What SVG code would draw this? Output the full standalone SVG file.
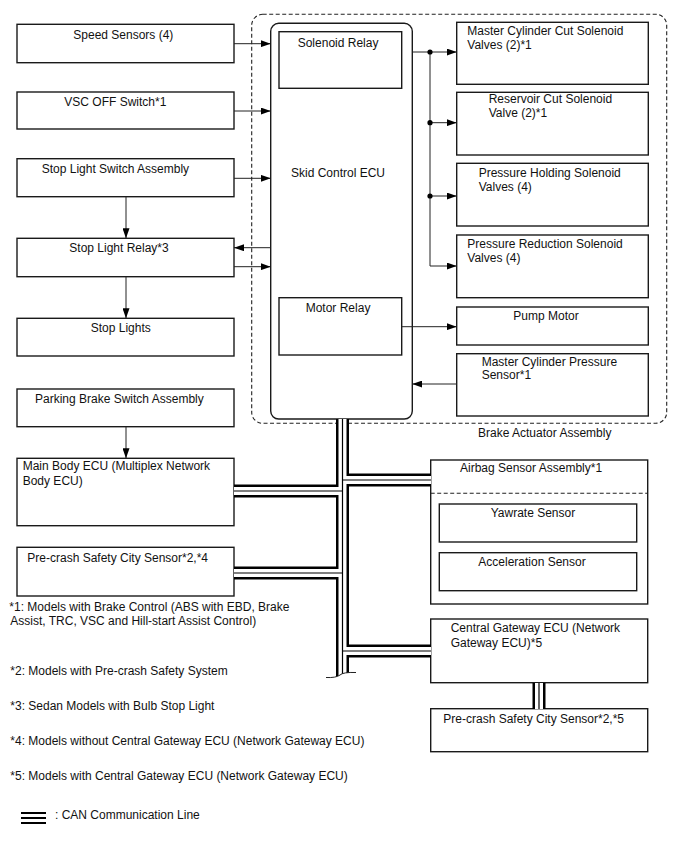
<svg xmlns="http://www.w3.org/2000/svg" xmlns:xlink="http://www.w3.org/1999/xlink" width="688" height="852" viewBox="0 0 688 852">
<style>
.box{fill:#fff;stroke:#1a1a1a;stroke-width:1.4}
.t{font-family:"Liberation Sans",Arial,sans-serif;font-size:12px;fill:#111}
.ln{fill:none;stroke:#222;stroke-width:1}
.arr{fill:none;stroke:#222;stroke-width:1;marker-end:url(#ah)}
.dash{fill:none;stroke:#222;stroke-width:1.1;stroke-dasharray:4 2.5}
.can1{fill:none;stroke:#000;stroke-width:13}
.can2{fill:none;stroke:#fff;stroke-width:8}
.can3{fill:none;stroke:#000;stroke-width:1.2}
</style>
<defs>
<marker id="ah" markerUnits="userSpaceOnUse" markerWidth="10" markerHeight="7" refX="10" refY="3.5" orient="auto">
<path d="M0,0 L10,3.5 L0,7 z" fill="#000"/>
</marker>
<path id="canpath" d="M342.5,419 V680 M234,491 H342.5 M342.5,480 H431 M234,573 H342.5 M342.5,651 H431 M539,683 V709"/>
</defs>
<rect width="688" height="852" fill="#fff"/>

<g id="brake-actuator-assembly">
<rect class="dash" x="251.7" y="14.3" width="415" height="409" rx="11"/>
<text class="t" x="478" y="437">Brake Actuator Assembly</text>
</g>

<g id="speed-sensors"><rect class="box" x="17" y="24.3" width="217" height="38.4"/><text class="t" x="73.3" y="39">Speed Sensors (4)</text></g>
<g id="vsc-off-switch"><rect class="box" x="17" y="92" width="217" height="37"/><text class="t" x="64.3" y="106">VSC OFF Switch*1</text></g>
<g id="stop-light-switch"><rect class="box" x="17" y="158.7" width="217" height="38"/><text class="t" x="41.7" y="173.3">Stop Light Switch Assembly</text></g>
<g id="stop-light-relay"><rect class="box" x="17" y="238.3" width="217" height="38.4"/><text class="t" x="69.3" y="252">Stop Light Relay*3</text></g>
<g id="stop-lights"><rect class="box" x="17" y="318.3" width="217" height="37.7"/><text class="t" x="90.7" y="332.3">Stop Lights</text></g>
<g id="parking-brake-switch"><rect class="box" x="17" y="389" width="217" height="37.7"/><text class="t" x="35" y="402.7">Parking Brake Switch Assembly</text></g>
<g id="main-body-ecu"><rect class="box" x="17" y="458.3" width="217" height="67.4"/><text class="t" x="22.7" y="470">Main Body ECU (Multiplex Network</text><text class="t" x="22.7" y="484.5">Body ECU)</text></g>
<g id="pre-crash-sensor-4"><rect class="box" x="17" y="547.3" width="217" height="48.7"/><text class="t" x="27.3" y="562">Pre-crash Safety City Sensor*2,*4</text></g>

<g id="skid-control-ecu">
<rect class="box" x="270.7" y="23.3" width="141.6" height="395.7" rx="8"/>
<text class="t" x="291" y="176.7">Skid Control ECU</text>
</g>
<g id="solenoid-relay"><rect class="box" x="279" y="31.7" width="122.7" height="56.6"/><text class="t" x="297.7" y="47">Solenoid Relay</text></g>
<g id="motor-relay"><rect class="box" x="279" y="297.7" width="122.7" height="57.3"/><text class="t" x="305.7" y="311.7">Motor Relay</text></g>

<g id="master-cylinder-cut"><rect class="box" x="456.7" y="22.3" width="191.6" height="62"/><text class="t" x="467.3" y="35">Master Cylinder Cut Solenoid</text><text class="t" x="467.3" y="48.7">Valves (2)*1</text></g>
<g id="reservoir-cut"><rect class="box" x="456.7" y="92.3" width="191.6" height="62.7"/><text class="t" x="488.7" y="103.3">Reservoir Cut Solenoid</text><text class="t" x="488.7" y="117.3">Valve (2)*1</text></g>
<g id="pressure-holding"><rect class="box" x="456.7" y="163.3" width="191.6" height="62.7"/><text class="t" x="478.7" y="176.7">Pressure Holding Solenoid</text><text class="t" x="478.7" y="190.7">Valves (4)</text></g>
<g id="pressure-reduction"><rect class="box" x="456.7" y="235" width="191.6" height="62.7"/><text class="t" x="467.3" y="247.7">Pressure Reduction Solenoid</text><text class="t" x="467.3" y="261.7">Valves (4)</text></g>
<g id="pump-motor"><rect class="box" x="456.7" y="307" width="191.6" height="38"/><text class="t" x="513.3" y="320">Pump Motor</text></g>
<g id="master-cylinder-pressure"><rect class="box" x="456.7" y="353.7" width="191.6" height="62.3"/><text class="t" x="481.7" y="365.7">Master Cylinder Pressure</text><text class="t" x="481.7" y="379.3">Sensor*1</text></g>

<g id="airbag-sensor-assembly">
<rect class="box" x="430.7" y="460" width="217" height="144"/>
<line class="dash" x1="430.7" y1="493.3" x2="647.7" y2="493.3"/>
<text class="t" x="460" y="471.7">Airbag Sensor Assembly*1</text>
</g>
<g id="yawrate-sensor"><rect class="box" x="439.3" y="504" width="197.4" height="38"/><text class="t" x="490.7" y="516.7">Yawrate Sensor</text></g>
<g id="acceleration-sensor"><rect class="box" x="439.3" y="552.7" width="197.4" height="38"/><text class="t" x="478.3" y="565.7">Acceleration Sensor</text></g>
<g id="central-gateway-ecu"><rect class="box" x="430.7" y="619" width="217" height="63.7"/><text class="t" x="450.7" y="632.3">Central Gateway ECU (Network</text><text class="t" x="450.7" y="646.7">Gateway ECU)*5</text></g>
<g id="pre-crash-sensor-5"><rect class="box" x="430.7" y="708.7" width="217" height="43"/><text class="t" x="443.3" y="723.3">Pre-crash Safety City Sensor*2,*5</text></g>

<g id="connectors">
<path class="arr" d="M234,43.7 H270.7"/>
<path class="arr" d="M234,111 H270.7"/>
<path class="arr" d="M234,178.3 H270.7"/>
<path class="arr" d="M270.7,247.7 H234"/>
<path class="arr" d="M234,266.7 H270.7"/>
<path class="arr" d="M126,196.7 V238.3"/>
<path class="arr" d="M126,276.7 V318.3"/>
<path class="arr" d="M126,426.7 V458.3"/>
<path class="ln" d="M412.3,52 H430 V266"/>
<path class="arr" d="M430,52 H456.7"/>
<path class="arr" d="M430,122.7 H456.7"/>
<path class="arr" d="M430,196 H456.7"/>
<path class="arr" d="M430,266 H456.7"/>
<circle cx="430" cy="52" r="2.6" fill="#000"/>
<circle cx="430" cy="122.7" r="2.6" fill="#000"/>
<circle cx="430" cy="196" r="2.6" fill="#000"/>
<path class="arr" d="M401.7,326.7 H456.7"/>
<path class="arr" d="M456.7,384 H412.3"/>
<use xlink:href="#canpath" class="can1"/>
<use xlink:href="#canpath" class="can2"/>
<use xlink:href="#canpath" class="can3"/>
<path d="M326,677.5 Q336,678 340,675 Q343,672 357,672.5 V686 H326 z" fill="#fff"/>
<path class="ln" d="M326,677.5 Q336,678 340,675 Q343,672 356,672.5"/>
</g>

<g id="notes">
<text class="t" x="9.3" y="610.7">*1: Models with Brake Control (ABS with EBD, Brake</text>
<text class="t" x="10.3" y="625">Assist, TRC, VSC and Hill-start Assist Control)</text>
<text class="t" x="10.3" y="675">*2: Models with Pre-crash Safety System</text>
<text class="t" x="10.3" y="710">*3: Sedan Models with Bulb Stop Light</text>
<text class="t" x="10.3" y="745">*4: Models without Central Gateway ECU (Network Gateway ECU)</text>
<text class="t" x="10.3" y="780">*5: Models with Central Gateway ECU (Network Gateway ECU)</text>
</g>
<g id="legend">
<line x1="21" y1="813" x2="46" y2="813" stroke="#000" stroke-width="2"/>
<line x1="21" y1="818" x2="46" y2="818" stroke="#000" stroke-width="2"/>
<line x1="21" y1="823" x2="46" y2="823" stroke="#000" stroke-width="2"/>
<text class="t" x="55" y="819.3">: CAN Communication Line</text>
</g>
</svg>
